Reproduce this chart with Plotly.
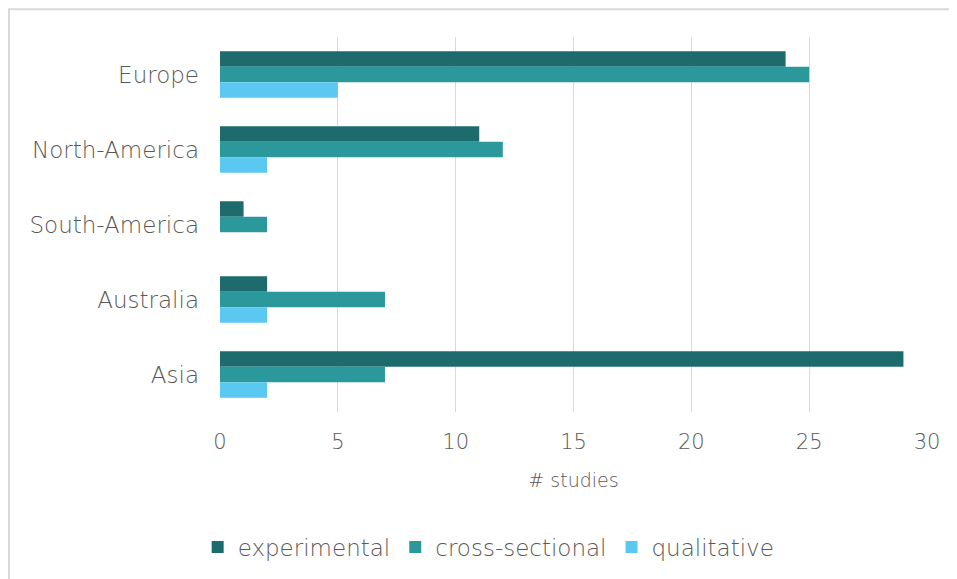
import plotly.graph_objects as go

regions = ["Europe", "North-America", "South-America", "Australia", "Asia"]
series_names = ["experimental", "cross-sectional", "qualitative"]
experimental = [24, 11, 1, 2, 29]
cross_sectional = [25, 12, 2, 7, 7]
qualitative = [5, 2, 0, 2, 2]
x_ticks = [0, 5, 10, 15, 20, 25, 30]

colors = ["#1e6b6e", "#2b999c", "#5bc8f2"]
values = [experimental, cross_sectional, qualitative]

font_family = "'DejaVu Sans', sans-serif"
text_color = "#595959"

fig = go.Figure()
for name, vals, col in zip(series_names, values, colors):
    fig.add_trace(go.Bar(
        y=regions, x=vals, name=name, orientation="h",
        marker=dict(color=col, line=dict(width=0)),
    ))

# page body has an 8px offset; figure sized to fit the 957x579 window
fig.update_layout(
    width=949, height=571,
    barmode="group", bargap=0.38, bargroupgap=0,
    plot_bgcolor="white", paper_bgcolor="white",
    margin=dict(l=212, r=30, t=29, b=167, autoexpand=False),
    font=dict(family=font_family, size=23, color=text_color, weight=200),
    xaxis=dict(
        range=[0, 30], tickvals=x_ticks, showgrid=True, gridcolor="#d9d9d9",
        gridwidth=1, zeroline=False, showline=False, ticks="",
        ticklabelstandoff=15,
        title=dict(text="# studies", font=dict(size=19, color=text_color, weight=200), standoff=20),
        tickfont=dict(size=21, color=text_color, weight=200),
    ),
    yaxis=dict(
        autorange="reversed", showgrid=False, zeroline=False,
        showline=False, ticks="", ticklabelstandoff=20,
        tickfont=dict(size=23, color=text_color, weight=200),
    ),
    legend=dict(
        orientation="h", x=0.38, xanchor="center", y=-0.36, yanchor="middle",
        font=dict(size=23, color=text_color, weight=200), itemsizing="constant",
        itemwidth=30, traceorder="normal",
    ),
    showlegend=True,
)

# outer chart border
fig.add_shape(type="rect", xref="paper", yref="paper",
              x0=-0.2985, x1=1.1, y0=-0.5, y1=1.074,
              line=dict(color="#d9d9d9", width=2), fillcolor="rgba(0,0,0,0)", layer="below")

fig.write_html("out.html")
